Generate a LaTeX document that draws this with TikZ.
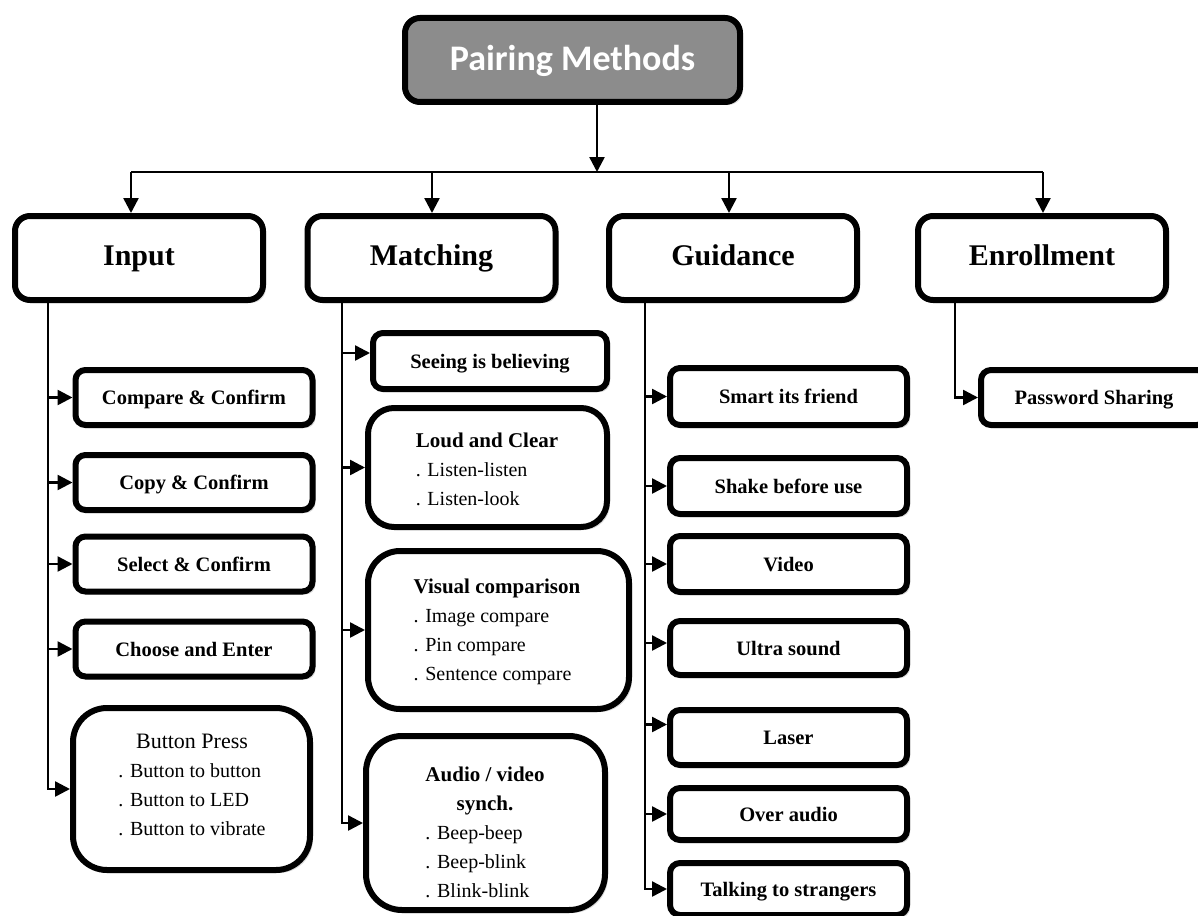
\documentclass[tikz,border=0pt]{standalone}
\usepackage{fontspec}
\setmainfont{Liberation Serif}
\newfontfamily\headfont{Carlito}
\usetikzlibrary{arrows.meta,shadows}

\begin{document}
\begin{tikzpicture}[x=1pt,y=-1pt,
  box/.style={draw, line width=6pt, fill=white, align=center, inner sep=0pt,
    drop shadow={shadow xshift=3pt, shadow yshift=-3pt, fill=black!30}},
  cat/.style={box, rounded corners=15pt, minimum width=248pt, minimum height=84pt,
    text height=19.8pt, text depth=5.8pt,
    font=\bfseries\fontsize{30}{36}\selectfont},
  sub/.style={box, rounded corners=10pt, minimum width=237pt, minimum height=55pt,
    text height=14.5pt, text depth=0pt,
    font=\bfseries\fontsize{20.5}{24}\selectfont},
  big/.style={box, rounded corners=30pt},
  txt/.style={inner sep=0pt, font=\fontsize{20}{29}\selectfont},
  link/.style={line width=2.5pt, -{Triangle[length=15pt,width=15pt]}}
]
\useasboundingbox (0,0) rectangle (1198,915);
\clip (0,0) rectangle (1198,915);

% root
\node[box, rounded corners=15pt, fill=black!45, text=white, minimum width=335pt, minimum height=84pt,
  text height=23pt, text depth=1pt,
  font=\headfont\bfseries\fontsize{36}{40}\selectfont] (root) at (572.5,60) {Pairing Methods};

% categories
\node[cat] (input) at (139,258) {Input};
\node[cat] (match) at (431.5,258) {Matching};
\node[cat] (guide) at (733,258) {Guidance};
\node[cat] (enrol) at (1042,258) {Enrollment};

% Input children
\node[sub] (cc) at (194,397.5) {Compare \& Confirm};
\node[sub] (copy) at (194,482.5) {Copy \& Confirm};
\node[sub] (sel) at (194,564) {Select \& Confirm};
\node[sub] (choose) at (194,649) {Choose and Enter};
\node[big, minimum width=237pt, minimum height=162pt, rounded corners=34pt] (btn) at (191.5,789) {};
\node[txt] (btnt) at (192,786) {\begin{tabular}{@{}l@{}}
  \multicolumn{1}{@{}c@{}}{\fontsize{22}{29}\selectfont Button Press}\\
  . Button to button\\ . Button to LED\\ . Button to vibrate\end{tabular}};

% Matching children
\node[sub, minimum width=234pt, minimum height=56pt] (seeing) at (490,361) {Seeing is believing};
\node[big, minimum width=239pt, minimum height=119pt, rounded corners=26pt] (loud) at (487.5,467.5) {};
\node[txt] (loudt) at (487,471) {\begin{tabular}{@{}l@{}}
  \multicolumn{1}{@{}c@{}}{\bfseries\fontsize{21}{29}\selectfont Loud and Clear}\\
  . Listen-listen\\ . Listen-look\end{tabular}};
\node[big, minimum width=261pt, minimum height=158pt, rounded corners=32pt] (visual) at (498.5,630) {};
\node[txt] (visualt) at (497,631) {\begin{tabular}{@{}l@{}}
  \multicolumn{1}{@{}c@{}}{\bfseries\fontsize{21}{29}\selectfont Visual comparison}\\
  . Image compare\\ . Pin compare\\ . Sentence compare\end{tabular}};
\node[big, minimum width=239pt, minimum height=174pt, rounded corners=36pt] (av) at (485.5,823) {};
\node[txt] (avt) at (485,834) {\begin{tabular}{@{}l@{}}
  \multicolumn{1}{@{}c@{}}{\bfseries\fontsize{21}{29}\selectfont Audio / video}\\
  \multicolumn{1}{@{}c@{}}{\bfseries\fontsize{21}{29}\selectfont synch.}\\
  . Beep-beep\\ . Beep-blink\\ . Blink-blink\end{tabular}};

% Guidance children
\node[sub, minimum height=57pt] (smart) at (788.5,396.5) {Smart its friend};
\node[sub, minimum height=56pt] (shake) at (788.5,486) {Shake before use};
\node[sub, minimum height=56pt] (video) at (788.5,564) {Video};
\node[sub, minimum height=54pt] (ultra) at (788.5,648) {Ultra sound};
\node[sub, minimum height=55pt] (laser) at (788.5,737.5) {Laser};
\node[sub, minimum height=52pt] (over) at (788.5,814) {Over audio};
\node[sub, minimum height=52pt] (talk) at (788.5,889) {Talking to strangers};

% Enrollment child
\node[sub, minimum width=226pt] (pwd) at (1094,397.5) {Password Sharing};

% bus below the root
\coordinate (bus) at (597,172);
\coordinate (b1) at (131,172);
\coordinate (b2) at (432,172);
\coordinate (b3) at (729,172);
\coordinate (b4) at (1043,172);
\draw[link] (root.south -| bus) -- (bus);
\draw[line width=2.5pt] (b1) -- (b4);
\draw[link] (b1) -- (input.north -| b1);
\draw[link] (b2) -- (match.north -| b2);
\draw[link] (b3) -- (guide.north -| b3);
\draw[link] (b4) -- (enrol.north -| b4);

% trunks
\coordinate (t1) at (48,0);
\coordinate (t2) at (342,0);
\coordinate (t3) at (645,0);
\coordinate (t4) at (955,0);
\foreach \c in {cc,copy,sel,choose,btn}
  \draw[link] (input.south -| t1) |- (\c.west);
\draw[link] (match.south -| t2) |- ([yshift=8pt]seeing.west);
\foreach \c in {loud,visual,av}
  \draw[link] (match.south -| t2) |- (\c.west);
\foreach \c in {smart,shake,video,over,talk}
  \draw[link] (guide.south -| t3) |- (\c.west);
\draw[link] (guide.south -| t3) |- ([yshift=5pt]ultra.west);
\draw[link] (guide.south -| t3) |- ([yshift=13pt]laser.west);
\draw[link] (enrol.south -| t4) |- (pwd.west);
\end{tikzpicture}
\end{document}
